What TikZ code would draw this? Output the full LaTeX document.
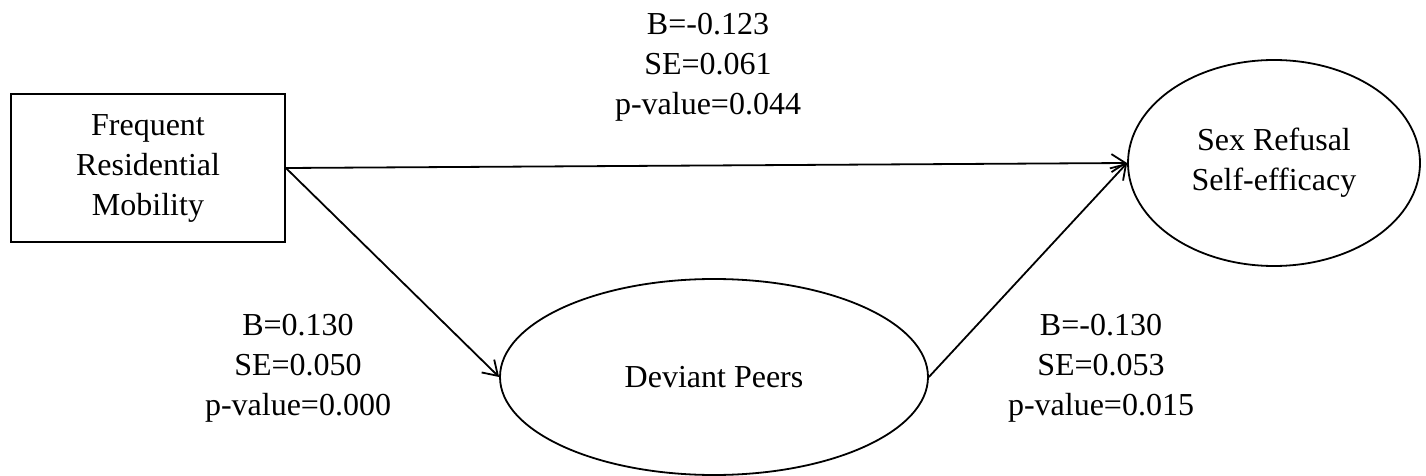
\documentclass[tikz,border=0pt]{standalone}
\usepackage{fontspec}
\setmainfont{Liberation Serif}
\usetikzlibrary{shapes.geometric,arrows.meta}
\tikzset{
  caja/.style={draw, line width=0.9pt, minimum width=137pt, minimum height=74pt, inner sep=0pt, align=center},
  elipse/.style={ellipse, draw, line width=0.9pt, inner sep=0pt, align=center},
  coef/.style={align=center, inner sep=0pt},
  flecha/.style={-{Straight Barb[length=7pt,width=9pt]}, line width=0.9pt}
}
\begin{document}
\begin{tikzpicture}[x=0.5pt,y=-0.5pt,font=\fontsize{16}{20}\selectfont]
        \useasboundingbox (0,0) rectangle (1426,476);
        % Variables
        \node[caja] (frm) at (148,168) {Frequent\\Residential\\Mobility};
        \node[elipse, minimum width=214pt, minimum height=98pt] (dev) at (714,377) {Deviant Peers};
        \node[elipse, minimum width=146pt, minimum height=103pt] (srse) at (1274,163) {Sex Refusal\\Self-efficacy};
        % Caminos
        \draw[flecha] (frm.east) -- (srse.west);
        \draw[flecha] (frm.east) -- (dev.west);
        \draw[flecha] (dev.east) -- (srse.west);
        % Coeficientes
        \node[coef] (cdir) at (708,67) {B=-0.123\\SE=0.061\\p-value=0.044};
        \node[coef] (ca) at (298,368) {B=0.130\\SE=0.050\\p-value=0.000};
        \node[coef] (cb) at (1101,368) {B=-0.130\\SE=0.053\\p-value=0.015};
    \end{tikzpicture}
\end{document}
